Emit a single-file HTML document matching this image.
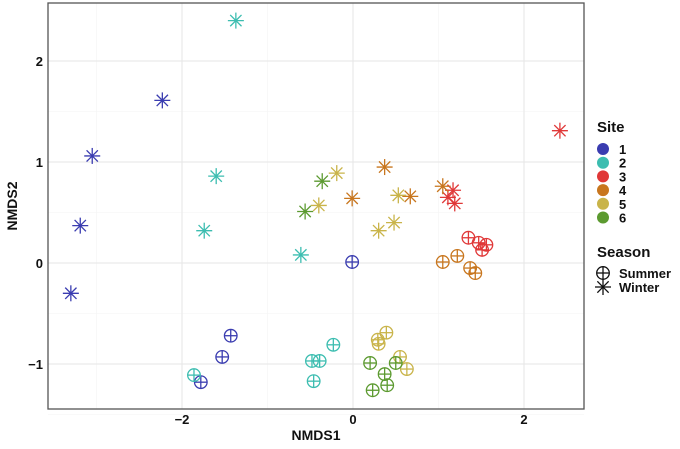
<!DOCTYPE html>
<html><head><meta charset="utf-8"><style>
body{margin:0;background:#fff;font-family:"Liberation Sans",sans-serif}
</style></head><body>
<svg id="chart" width="680" height="444" xmlns="http://www.w3.org/2000/svg"></svg>
<script>
const xTicks=[-2,0,2];
const yTicks=[-1,0,1,2];
const siteNames=["1","2","3","4","5","6"];
const siteColors=["#3a3cb0","#3cbdb0","#e03838","#c8761e","#c9b44a","#5c9a30"];
const winterSite=[1,1,1,1,2,2,2,2,3,3,3,3,4,4,4,4,5,5,5,5,5,6,6];
const winterX=[-2.23,-3.05,-3.19,-3.30,-1.37,-1.60,-1.74,-0.61,2.42,1.17,1.11,1.19,0.37,-0.01,0.67,1.05,-0.19,-0.40,0.53,0.30,0.48,-0.36,-0.56];
const winterY=[1.61,1.06,0.37,-0.30,2.40,0.86,0.32,0.08,1.31,0.72,0.65,0.59,0.95,0.64,0.66,0.76,0.89,0.57,0.67,0.32,0.40,0.81,0.51];
const summerSite=[1,1,1,1,2,2,2,2,2,3,3,3,3,4,4,4,4,5,5,5,5,5,6,6,6,6,6];
const summerX=[-0.01,-1.43,-1.53,-1.78,-1.86,-0.23,-0.39,-0.48,-0.46,1.35,1.47,1.56,1.51,1.05,1.22,1.37,1.43,0.39,0.29,0.30,0.55,0.63,0.20,0.37,0.50,0.40,0.23];
const summerY=[0.01,-0.72,-0.93,-1.18,-1.11,-0.81,-0.97,-0.97,-1.17,0.25,0.20,0.18,0.13,0.01,0.07,-0.05,-0.10,-0.69,-0.76,-0.80,-0.93,-1.05,-0.99,-1.10,-0.99,-1.21,-1.26];

const svg=document.getElementById('chart');
const NS="http://www.w3.org/2000/svg";
const L=48,R=584,T=3,B=409;
const sx=v=>353+v*85.5;
const sy=v=>263-v*101;
function mk(tag,at,parent){const e=document.createElementNS(NS,tag);for(const k in at)e.setAttribute(k,at[k]);(parent||svg).appendChild(e);return e;}

const grid=mk('g',{});


[-3,-1,1].forEach(v=>mk('line',{x1:sx(v),x2:sx(v),y1:T,y2:B,stroke:'#f3f3f3','stroke-width':0.6},grid));
[-1.5,-0.5,0.5,1.5].forEach(v=>mk('line',{x1:L,x2:R,y1:sy(v),y2:sy(v),stroke:'#f3f3f3','stroke-width':0.6},grid));
xTicks.forEach(v=>mk('line',{x1:sx(v),x2:sx(v),y1:T,y2:B,stroke:'#e6e6e6','stroke-width':1},grid));
yTicks.forEach(v=>mk('line',{x1:L,x2:R,y1:sy(v),y2:sy(v),stroke:'#e6e6e6','stroke-width':1},grid));

function star(x,y,c,g){const r=8,d=r*0.7071;
 [[0,-r,0,r],[-r,0,r,0],[-d,-d,d,d],[-d,d,d,-d]].forEach(s=>mk('line',{x1:x+s[0],y1:y+s[1],x2:x+s[2],y2:y+s[3],stroke:c,'stroke-width':1.3},g));}
function cplus(x,y,c,g){const r=6.3;mk('circle',{cx:x,cy:y,r:r,fill:'none',stroke:c,'stroke-width':1.3},g);
 mk('line',{x1:x-r,x2:x+r,y1:y,y2:y,stroke:c,'stroke-width':1.3},g);mk('line',{x1:x,x2:x,y1:y-r,y2:y+r,stroke:c,'stroke-width':1.3},g);}

winterX.forEach((v,i)=>{const g=mk('g',{});
 
 
 star(sx(v),sy(winterY[i]),siteColors[winterSite[i]-1],g);});
summerX.forEach((v,i)=>{const g=mk('g',{});
 
 
 cplus(sx(v),sy(summerY[i]),siteColors[summerSite[i]-1],g);});

const frame=mk('rect',{x:L,y:T,width:R-L,height:B-T,fill:'none',stroke:'#555','stroke-width':1.3});



xTicks.forEach(v=>{const t=mk('text',{x:sx(v),y:424,'text-anchor':'middle','font-size':13,'font-weight':'bold',fill:'#111'});t.textContent=v<0?'−'+(-v):v;
 
 });
yTicks.forEach(v=>{const t=mk('text',{x:43,y:sy(v)+5,'text-anchor':'end','font-size':13,'font-weight':'bold',fill:'#111'});t.textContent=v<0?'−'+(-v):v;
 
 });

const xt=mk('text',{x:316,y:440,'text-anchor':'middle','font-size':14,'font-weight':'bold',fill:'#111'});xt.textContent='NMDS1';


const yt=mk('text',{x:0,y:0,transform:'translate(17,206) rotate(-90)','text-anchor':'middle','font-size':14,'font-weight':'bold',fill:'#111'});yt.textContent='NMDS2';



const st=mk('text',{x:597,y:132,'font-size':15,'font-weight':'bold',fill:'#111'});st.textContent='Site';


siteNames.forEach((n,i)=>{const g=mk('g',{});
 
 
 const y=149+i*13.7;
 mk('circle',{cx:603,cy:y,r:6,fill:siteColors[i]},g);
 const t=mk('text',{x:619,y:y+5,'font-size':13,'font-weight':'bold',fill:'#111'},g);t.textContent=n;});
const se=mk('text',{x:597,y:257,'font-size':15,'font-weight':'bold',fill:'#111'});se.textContent='Season';


const g1=mk('g',{});


cplus(603,273,'#111',g1);
const t1=mk('text',{x:619,y:278,'font-size':13,'font-weight':'bold',fill:'#111'},g1);t1.textContent='Summer';
const g2=mk('g',{});


star(603,287,'#111',g2);
const t2=mk('text',{x:619,y:292,'font-size':13,'font-weight':'bold',fill:'#111'},g2);t2.textContent='Winter';
</script>
</body></html>
